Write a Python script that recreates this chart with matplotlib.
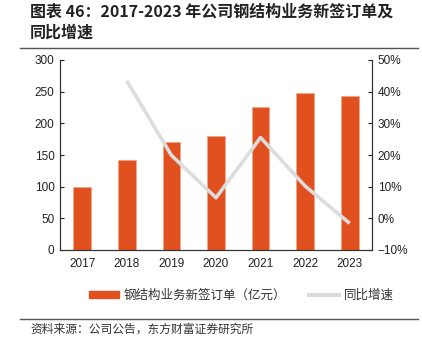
import matplotlib.pyplot as plt
from matplotlib.ticker import FuncFormatter, MultipleLocator
from matplotlib.lines import Line2D
from matplotlib.patches import Patch

plt.rcParams['font.family'] = ['Liberation Sans', 'Noto Sans CJK SC', 'DejaVu Sans']

# 数据
years = ['2017', '2018', '2019', '2020', '2021', '2022', '2023']
orders = [100, 142, 170, 180, 226, 247.5, 243]          # 新签订单（亿元）
yoy_years = ['2018', '2019', '2020', '2021', '2022', '2023']
yoy = [43.4, 19.9, 6.5, 25.5, 10.2, -1.6]               # 同比增速 %

bar_color = '#E0511F'
line_color = '#DCDCDC'
cjk = ['Noto Sans CJK SC', 'DejaVu Sans']

fig = plt.figure(figsize=(4.22, 3.49), dpi=100)
ax = fig.add_axes([60 / 422, 1 - 250 / 349, 312 / 422, 190 / 349])
ax2 = ax.twinx()

x = list(range(len(years)))
ax.bar(x, orders, width=0.4, color=bar_color, edgecolor='#F2A68A', linewidth=0.6, zorder=2)
ax.set_xlim(-0.5, 6.5)
ax.set_ylim(0, 300)
ax.yaxis.set_major_locator(MultipleLocator(50))
ax.set_xticks(x)
ax.set_xticklabels(years)

xl = [years.index(y) for y in yoy_years]
ax2.plot(xl, yoy, color=line_color, linewidth=2.6, solid_capstyle='butt', zorder=3)
ax2.set_ylim(-10, 50)
ax2.yaxis.set_major_locator(MultipleLocator(10))
ax2.yaxis.set_major_formatter(FuncFormatter(lambda v, p: f'{v:.0f}%'.replace('-', '\u2212')))

for a in (ax, ax2):
    a.spines['top'].set_visible(False)
    for s in ('left', 'right', 'bottom'):
        a.spines[s].set_color('#333333')
        a.spines[s].set_linewidth(0.8)
    a.tick_params(axis='both', direction='in', length=3, width=0.8, labelsize=8.5,
                  colors='#222222', pad=4)
ax.tick_params(axis='x', length=0, pad=6)

# 标题
fig.text(30 / 422, 1 - 12 / 349, '图表 46：2017-2023 年公司钢结构业务新签订单及',
         fontsize=11.5, fontweight='bold', family=cjk, va='center', color='#222222')
fig.text(30 / 422, 1 - 33 / 349, '同比增速',
         fontsize=11.5, fontweight='bold', family=cjk, va='center', color='#222222')
fig.add_artist(Line2D([20 / 422, 418 / 422], [1 - 48 / 349] * 2, color='#555555', linewidth=1))
fig.add_artist(Line2D([20 / 422, 418 / 422], [1 - 319 / 349] * 2, color='#555555', linewidth=1))

# 图例
handles = [Patch(facecolor=bar_color, edgecolor=bar_color),
           Line2D([], [], color=line_color, linewidth=3)]
leg = fig.legend(handles, ['钢结构业务新签订单（亿元）', '同比增速'],
                 loc='center', bbox_to_anchor=(241.5 / 422, 1 - 295 / 349), ncol=2,
                 frameon=False, prop={'family': cjk, 'size': 9},
                 handlelength=2.4, handleheight=0.5, columnspacing=1.8, handletextpad=0.4)
for t in leg.get_texts():
    t.set_color('#333333')

fig.text(30 / 422, 1 - 329 / 349, '资料来源：公司公告，东方财富证券研究所',
         fontsize=8.5, family=cjk, va='center', color='#333333')

fig.savefig('out.png', dpi=100)
